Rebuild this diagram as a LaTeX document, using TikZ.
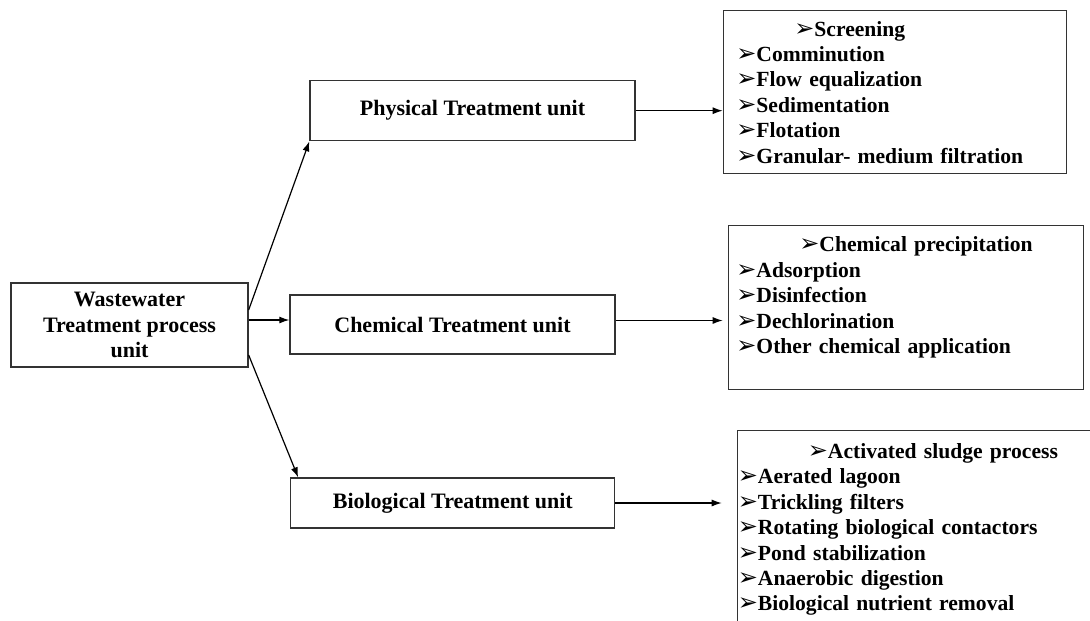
\documentclass[tikz,border=0pt]{standalone}
\usepackage{fontspec}
\setmainfont{Liberation Serif}
\newfontfamily\arrowfont{DejaVu Sans}
\usetikzlibrary{arrows.meta}
\newcommand{\lmark}{{\arrowfont\fontsize{24}{25.4}\selectfont ➢}}
\tikzset{
  unit/.style={draw=black!80,line width=1.3pt,align=center,font=\bfseries\fontsize{22}{25.2}\selectfont},
  list/.style={draw=black!80,line width=1.3pt,anchor=north west,align=left,inner ysep=0pt,font=\bfseries\fontsize{21.6}{25.4}\selectfont},
  link/.style={line width=1.2pt,-{Latex[length=10pt,width=7pt]}}
}
\begin{document}
\begin{tikzpicture}[x=1pt,y=-1pt]
\useasboundingbox (0,0) rectangle (1090,621);
\clip (0,0) rectangle (1090,621);
\node[unit,minimum width=237pt,minimum height=84pt](wwt)at(129.5,325){Wastewater\\Treatment process\\unit};
\node[unit,minimum width=325pt,minimum height=60pt](phys)at(472.5,110.7){Physical Treatment unit};
\node[unit,minimum width=325pt,minimum height=59pt](chem)at(452.5,324.5){Chemical Treatment unit};
\node[unit,minimum width=324pt,minimum height=50pt](bio)at(452.8,503){Biological Treatment unit};
\node[list,inner xsep=13pt,text width=317pt,minimum height=163pt](physlist)at(722.7,10){\hspace*{58pt}\lmark Screening\\\lmark Comminution\\\lmark Flow equalization\\\lmark Sedimentation\\\lmark Flotation\\\lmark Granular- medium filtration};
\node[list,inner xsep=8pt,text width=339pt,minimum height=164pt](chemlist)at(727.7,225){\hspace*{63pt}\lmark Chemical precipitation\\\lmark Adsorption\\\lmark Disinfection\\\lmark Dechlorination\\\lmark Other chemical application\rule[-25pt]{0pt}{0pt}};
\node[list,inner xsep=0.5pt,text width=372pt,minimum height=198pt](biolist)at(736.7,430){\hspace*{70pt}\lmark Activated sludge process\\\lmark Aerated lagoon\\\lmark Trickling filters\\\lmark Rotating biological contactors\\\lmark Pond stabilization\\\lmark Anaerobic digestion\\\lmark Biological nutrient removal};
\draw[link]([yshift=15pt]wwt.east)--(phys.south west);
\draw[link]([yshift=5pt]wwt.east)--([yshift=5pt]wwt.east-|chem.west);
\draw[link]([yshift=-30pt]wwt.east)--([xshift=8pt]bio.north west);
\draw[link](phys.east)--(phys.east-|physlist.west);
\draw[link]([yshift=4pt]chem.east)--([yshift=4pt,xshift=-5pt]chem.east-|chemlist.west);
\draw[link](bio.east)--([xshift=-15pt]bio.east-|biolist.west);
\end{tikzpicture}
\end{document}
